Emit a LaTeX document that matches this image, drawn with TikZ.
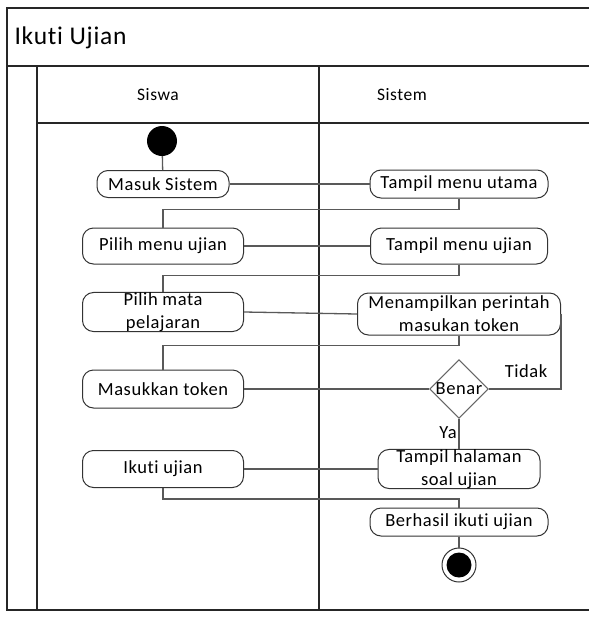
\documentclass[tikz,border=0pt]{standalone}
\usepackage{fontspec}
\setmainfont{Carlito}[Ligatures=NoCommon, LetterSpace=3]
\usetikzlibrary{shapes.geometric, positioning}

\begin{document}
\begin{tikzpicture}[x=1pt, y=-1pt,
    act/.style={draw=black!80, line width=1pt, rounded corners=11pt,
                minimum height=28pt, inner sep=0pt, align=center,
                font=\fontsize{18.5}{23}\selectfont},
    cond/.style={diamond, draw=black!60, line width=1pt, minimum size=58pt,
                 inner sep=0pt, font=\fontsize{18.5}{22}\selectfont},
    flow/.style={draw=black!65, line width=1.3pt},
    lane/.style={draw=black!85, line width=1.2pt},
    lbl/.style={font=\fontsize{18.5}{22}\selectfont},
  ]
    \useasboundingbox (0,0) rectangle (589,619);

    % frame and swimlanes
    \draw[lane] (589,8) -- (7,8) -- (7,610) -- (589,610);
    \draw[lane] (7,66) -- (589,66);
    \draw[lane] (37,123) -- (589,123);
    \draw[lane] (37,66) -- (37,610);
    \draw[lane] (319,66) -- (319,610);
    \node[anchor=west, font=\fontsize{25.5}{28}\selectfont] (judul) at (11,38) {Ikuti Ujian};
    \node[font=\fontsize{17.5}{20}\selectfont] (siswa)  at (158,95) {Siswa};
    \node[font=\fontsize{17.5}{20}\selectfont] (sistem) at (402,95) {Sistem};

    % activities
    \node[circle, fill=black, minimum size=30pt, inner sep=0pt] (mulai) at (162,141) {};
    \node[act, minimum width=132pt, minimum height=27pt] (masuk)  at (163,184) {Masuk Sistem};
    \node[act, minimum width=178pt] (utama)  at (459,184) {Tampil menu utama};
    \node[act, minimum width=161pt, minimum height=36pt] (pmenu) at (163,246) {Pilih menu ujian};
    \node[act, minimum width=177pt, minimum height=36pt] (tmenu) at (459,246) {Tampil menu ujian};
    \node[act, minimum width=161pt, minimum height=37pt] (pmata) at (163,312) {Pilih mata\\pelajaran};
    \node[act, minimum width=203pt, minimum height=42pt] (perintah) at (459,314)
      {Menampilkan perintah\\masukan token};
    \node[act, minimum width=161pt, minimum height=38pt] (token) at (163,389) {Masukkan token};
    \node[cond] (benar) at (459,389) {Benar};
    \node[act, minimum width=161pt, minimum height=37pt] (ikuti) at (163,469) {Ikuti ujian};
    \node[act, minimum width=162pt, minimum height=37pt] (halaman) at (459,469)
      {Tampil halaman\\soal ujian};
    \node[act, minimum width=178pt] (berhasil) at (459,522) {Berhasil ikuti ujian};
    \node[circle, draw=black!80, line width=1pt, minimum size=34pt, inner sep=0pt] (selesai) at (459,565) {};
    \fill (selesai) circle (12.5pt);

    % flows
    \draw[flow] (mulai) -- (masuk);
    \draw[flow] (masuk) -- (utama);
    \draw[flow] (utama.south) -- ++(0,11) -| (pmenu.north);
    \draw[flow] (pmenu) -- (tmenu);
    \draw[flow] (tmenu.south) -- ++(0,11) -| (pmata.north);
    \draw[flow] (pmata.east) -- (perintah.west);
    \draw[flow] (perintah.south) -- ++(0,10) -| (token.north);
    \draw[flow] (token) -- (benar);
    \draw[flow] (benar.east) -| (perintah.east);
    \node[lbl] (tidak) at (526,371) {Tidak};
    \draw[flow] (benar.south) -- (halaman.north);
    \node[lbl] (ya) at (448,433) {Ya};
    \draw[flow] (ikuti) -- (halaman);
    \draw[flow] (ikuti.south) -- ++(0,11) -| (berhasil.north);
    \draw[flow] (berhasil) -- (selesai);
  \end{tikzpicture}
\end{document}
